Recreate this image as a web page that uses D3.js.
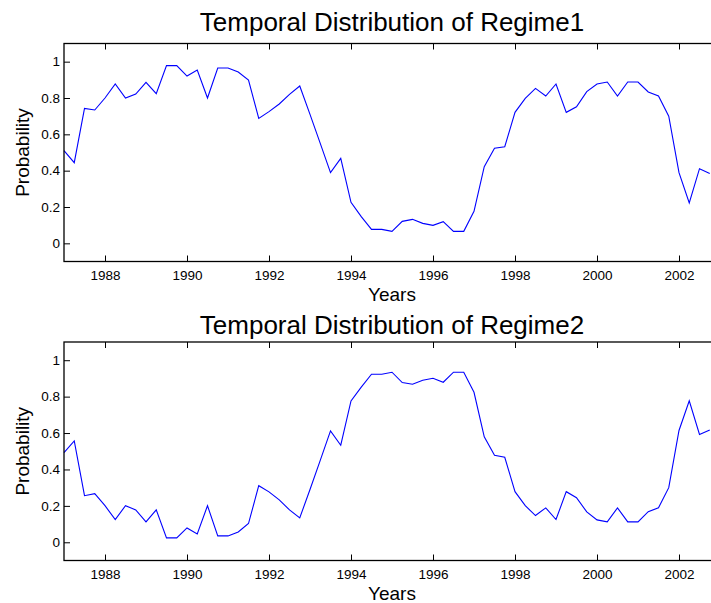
<!DOCTYPE html>
<html>
<head>
<meta charset="utf-8">
<script src="https://cdn.jsdelivr.net/npm/d3@7"></script>
<style>
  html, body { margin: 0; padding: 0; background: #fff; }
  svg { display: block; }
  text { font-family: "Liberation Sans", Arial, Helvetica, sans-serif; fill: #000; }
</style>
</head>
<body>
<svg id="chart" width="711" height="603"></svg>
<script>
// Quarterly time points (start year 1987.0, step 0.25)
const startYear = 1987;
const quarters = 64; // 1987.0 .. 2002.75

const regime1 = [
  0.51, 0.444, 0.743, 0.734, 0.80, 0.877, 0.80, 0.822,
  0.886, 0.824, 0.978, 0.978, 0.921, 0.954, 0.80, 0.965,
  0.965, 0.943, 0.899, 0.688, 0.725, 0.767, 0.82, 0.866,
  0.71, 0.55, 0.389, 0.468, 0.226, 0.147, 0.077, 0.077,
  0.066, 0.121, 0.132, 0.11, 0.099, 0.119, 0.066, 0.066,
  0.176, 0.422, 0.523, 0.532, 0.721, 0.798, 0.853, 0.811,
  0.877, 0.721, 0.752, 0.835, 0.877, 0.888, 0.811, 0.888,
  0.888, 0.833, 0.811, 0.70, 0.389, 0.222, 0.411, 0.385
];

const regime2 = [
  0.493, 0.557, 0.256, 0.267, 0.201, 0.125, 0.201, 0.178,
  0.112, 0.178, 0.024, 0.024, 0.079, 0.046, 0.201, 0.035,
  0.035, 0.057, 0.103, 0.311, 0.277, 0.233, 0.178, 0.134,
  0.29, 0.45, 0.612, 0.533, 0.776, 0.852, 0.923, 0.923,
  0.934, 0.877, 0.868, 0.89, 0.901, 0.879, 0.934, 0.934,
  0.824, 0.579, 0.478, 0.467, 0.278, 0.201, 0.147, 0.189,
  0.125, 0.278, 0.245, 0.167, 0.123, 0.112, 0.189, 0.112,
  0.112, 0.168, 0.19, 0.30, 0.614, 0.777, 0.592, 0.617
];

const years = regime1.map((_, i) => startYear + i * 0.25);

const xTicks = [1988, 1990, 1992, 1994, 1996, 1998, 2000, 2002];
const yTicks = [0, 0.2, 0.4, 0.6, 0.8, 1];
const yTickLabels = ["0", "0.2", "0.4", "0.6", "0.8", "1"];

const titles = ["Temporal Distribution of Regime1", "Temporal Distribution of Regime2"];
const xLabel = "Years";
const yLabel = "Probability";

const svg = d3.select("#chart");

const panels = [
  { data: regime1, title: titles[0], top: 43.5, bottom: 261.5, titleY: 31 },
  { data: regime2, title: titles[1], top: 342, bottom: 560.5, titleY: 333.5 }
];

const left = 64, right = 720;
const x = d3.scaleLinear().domain([1987, 2003]).range([left, right]);

panels.forEach(p => {
  const y = d3.scaleLinear().domain([-0.1, 1.1]).range([p.bottom, p.top]);
  const g = svg.append("g");

  // line
  const line = d3.line().x((d, i) => x(years[i])).y(d => y(d));
  g.append("path")
    .datum(p.data)
    .attr("fill", "none")
    .attr("stroke", "#0000ff")
    .attr("stroke-width", 1.1)
    .attr("stroke-linejoin", "miter")
    .attr("d", line);

  // bottom axis (inward ticks)
  const xb = g.append("g").attr("transform", `translate(0,${p.bottom})`)
    .call(d3.axisBottom(x).tickValues(xTicks).tickFormat(d3.format("d"))
      .tickSizeInner(-6).tickSizeOuter(0).tickPadding(9));
  // top axis ticks (no labels)
  const xt = g.append("g").attr("transform", `translate(0,${p.top})`)
    .call(d3.axisTop(x).tickValues(xTicks).tickFormat("")
      .tickSizeInner(-6).tickSizeOuter(0));
  // left axis
  const yl = g.append("g").attr("transform", `translate(${left},0)`)
    .call(d3.axisLeft(y).tickValues(yTicks).tickFormat((d, i) => yTickLabels[i])
      .tickSizeInner(-6).tickSizeOuter(0).tickPadding(4));
  // right axis ticks (out of view mostly)
  const yr = g.append("g").attr("transform", `translate(${right},0)`)
    .call(d3.axisRight(y).tickValues(yTicks).tickFormat("")
      .tickSizeInner(-6).tickSizeOuter(0));

  [xb, xt, yl, yr].forEach(a => {
    a.selectAll(".domain").remove();
    a.selectAll("line").attr("stroke", "#000").attr("stroke-width", 1);
    a.selectAll("text").attr("font-size", "13.5px")
      .attr("font-family", "'Liberation Sans', Arial, sans-serif").attr("fill", "#000");
  });

  // box
  g.append("rect")
    .attr("x", left).attr("y", p.top)
    .attr("width", right - left).attr("height", p.bottom - p.top)
    .attr("fill", "none").attr("stroke", "#000").attr("stroke-width", 1.3);

  // title
  g.append("text")
    .attr("x", (left + right) / 2).attr("y", p.titleY)
    .attr("text-anchor", "middle").attr("font-size", "26px")
    .text(p.title);

  // x label
  g.append("text")
    .attr("x", (left + right) / 2).attr("y", p.bottom + 39.5)
    .attr("text-anchor", "middle").attr("font-size", "19px")
    .text(xLabel);

  // y label
  g.append("text")
    .attr("transform", `translate(28.5,${(p.top + p.bottom) / 2}) rotate(-90)`)
    .attr("text-anchor", "middle").attr("font-size", "19px")
    .text(yLabel);
});
</script>
</body>
</html>
